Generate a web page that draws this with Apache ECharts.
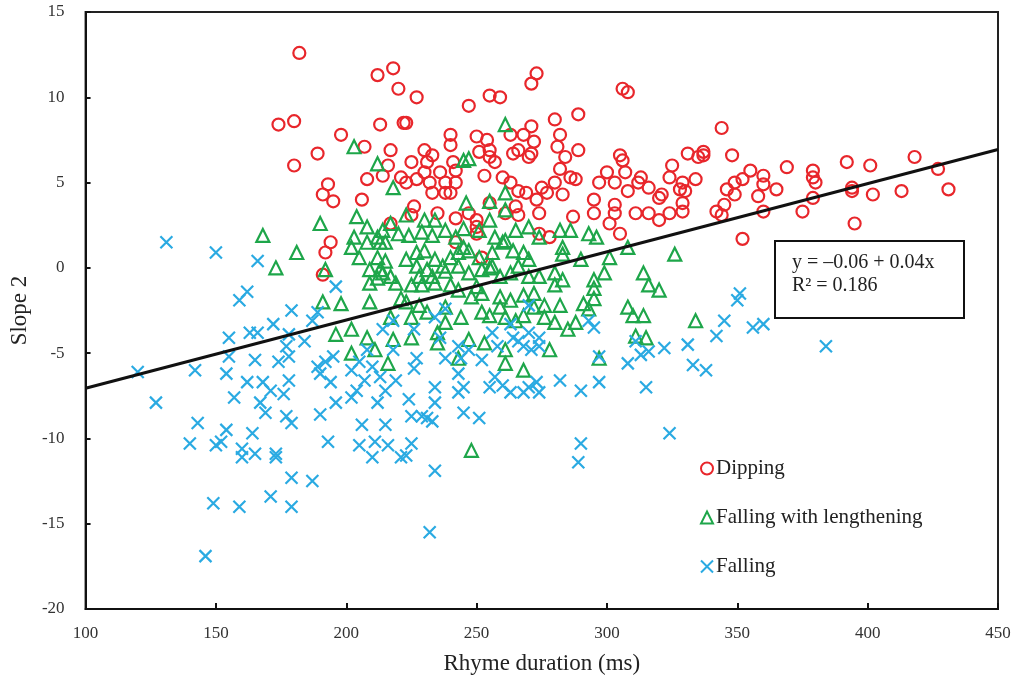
<!DOCTYPE html>
<html>
<head>
<meta charset="utf-8">
<script src="https://cdn.jsdelivr.net/npm/echarts@6/dist/echarts.min.js"></script>
<style>
  html, body { margin: 0; padding: 0; background: #fff; }
  #chart { width: 1019px; height: 681px; }
</style>
</head>
<body>
<div id="chart"></div>
<script>
// series names (legend order)
var seriesNames = ["Dipping", "Falling with lengthening", "Falling"];

// Dipping: [rhyme duration (ms), slope 2]
var dipping = [
  [182, 12.6], [212, 11.3], [218, 11.7], [220, 10.5], [174, 8.4], [180, 8.6], [198, 7.8], [213, 8.4],
  [222, 8.5], [207, 7.1], [189, 6.7], [217, 6.9], [180, 6.0], [216, 6.0], [214, 5.4], [208, 5.2],
  [221, 5.3], [193, 4.9], [191, 4.3], [195, 3.9], [206, 4.0],
  [273, 11.4], [271, 10.8], [306, 10.5], [308, 10.3], [227, 10.0], [255, 10.1], [259, 10.0], [247, 9.5],
  [223, 8.5], [280, 8.7], [289, 9.0], [271, 8.3], [240, 7.8], [250, 7.7], [254, 7.5], [263, 7.8],
  [268, 7.8], [272, 7.4], [282, 7.8], [240, 7.2], [281, 7.1], [289, 6.9], [230, 6.9], [233, 6.6],
  [251, 6.8], [255, 6.9], [264, 6.7], [266, 6.9], [271, 6.7], [270, 6.5], [284, 6.5], [305, 6.6],
  [306, 6.3], [331, 6.7], [335, 6.5], [225, 6.2], [231, 6.2], [241, 6.2], [255, 6.5], [257, 6.2],
  [282, 5.8], [325, 6.0], [324, 5.3], [230, 5.6], [236, 5.6], [242, 5.7], [300, 5.6], [307, 5.6],
  [313, 5.3], [253, 5.4], [260, 5.3], [286, 5.3], [288, 5.2], [223, 5.0], [227, 5.2], [232, 5.0],
  [238, 5.0], [242, 5.0], [263, 5.0], [280, 5.0], [297, 5.0], [303, 5.0], [312, 5.0], [316, 4.7],
  [329, 5.0], [334, 5.2], [233, 4.4], [238, 4.4], [240, 4.4], [266, 4.5], [269, 4.4], [275, 4.7],
  [277, 4.4], [283, 4.3], [308, 4.5], [320, 4.1], [321, 4.3], [328, 4.6], [330, 4.5], [273, 4.0],
  [295, 4.0], [303, 3.7], [329, 3.8], [255, 3.8], [265, 3.6], [226, 3.6],
  [344, 8.2], [337, 6.8], [337, 6.6], [348, 6.6], [355, 5.7], [360, 5.4], [369, 5.9], [392, 6.2],
  [401, 6.0], [418, 6.5], [427, 5.8], [352, 5.2], [349, 5.0], [360, 4.9], [365, 4.6], [379, 5.7],
  [379, 5.3], [380, 5.0], [346, 4.6], [349, 4.3], [358, 4.2], [379, 4.1], [394, 4.7], [394, 4.5],
  [402, 4.3], [413, 4.5], [431, 4.6], [345, 3.7], [342, 3.3], [360, 3.3], [375, 3.3], [344, 3.1],
  [395, 2.6], [352, 1.7],
  [194, 1.5], [192, 0.9], [191, -0.4], [217, 2.6],
  [225, 3.1], [235, 3.2], [242, 2.9], [247, 3.2], [250, 2.8], [250, 2.4], [250, 2.0], [252, 0.6],
  [242, 1.5], [261, 3.2], [266, 3.1], [274, 3.2], [278, 1.8], [274, 2.0], [287, 3.0], [295, 3.2],
  [301, 2.6], [305, 2.0], [303, 3.2], [311, 3.2], [316, 3.2], [320, 2.8], [324, 3.2], [329, 3.3]
];

// Falling with lengthening
var fallingLengthening = [
  [203, 7.1], [212, 6.1], [261, 8.4], [245, 6.3], [247, 6.4],
  [168, 1.9], [181, 0.9], [173, 0.0], [190, 2.6], [192, -0.1], [191, -2.0], [198, -2.1], [209, -2.0],
  [204, 3.0], [208, 2.4], [203, 1.8], [212, 1.8], [202, 1.2], [208, 1.5], [213, 1.5], [205, 0.6],
  [212, 0.6], [209, -0.1], [213, -0.1], [209, -0.9], [212, -0.6], [196, -3.9], [202, -3.6], [208, -4.1],
  [202, -5.0], [211, -4.8], [248, -10.7],
  [218, 4.7], [261, 4.4], [246, 3.8], [255, 3.9], [261, 3.4], [223, 3.1], [230, 2.8], [234, 2.8],
  [217, 2.6], [214, 2.2], [220, 2.0], [224, 1.9], [229, 2.1], [233, 1.9], [238, 2.2], [242, 1.8],
  [245, 2.3], [251, 2.2], [255, 2.8], [257, 1.8], [261, 1.6], [265, 2.2], [270, 2.4], [274, 1.8],
  [282, 2.2], [286, 2.2], [293, 2.0], [296, 1.8], [308, 1.2], [326, 0.8], [283, 1.2], [283, 0.8],
  [290, 0.5], [301, 0.6], [215, 1.5], [215, 0.4], [214, -0.3], [217, -0.5], [219, -0.9], [223, 0.5],
  [227, 0.9], [230, 1.0], [227, 0.1], [231, -0.1], [234, 0.5], [237, 0.1], [240, 0.6], [243, 0.9],
  [247, 1.0], [251, 0.6], [256, 0.9], [260, 1.5], [264, 1.0], [268, 0.9], [270, 0.5], [266, 0.1],
  [228, -0.5], [233, -0.5], [238, -0.2], [243, 0.1], [247, -0.3], [252, -0.1], [256, 0.1], [259, -0.5],
  [263, -0.3], [270, -0.5], [274, -0.5], [280, -0.3], [283, -0.7], [280, -1.0], [295, -0.7], [299, -0.3],
  [314, -0.3], [316, -1.0], [320, -1.3], [295, -1.2], [295, -1.8], [291, -2.1], [293, -2.4], [282, -2.2],
  [276, -2.2], [272, -1.5], [268, -1.6], [263, -1.9], [259, -1.7], [252, -1.5], [248, -1.7], [243, -1.3],
  [240, -1.0], [234, -0.9], [229, -1.0], [225, -1.0], [221, -1.8], [223, -2.0], [238, -2.3], [244, -2.9],
  [252, -2.6], [255, -2.8], [259, -2.3], [261, -2.9], [265, -3.1], [268, -2.8], [272, -2.3], [276, -2.9],
  [280, -3.2], [288, -3.2], [308, -2.3], [310, -2.8], [314, -2.8], [334, -3.1], [311, -4.0], [315, -4.1],
  [297, -5.3], [218, -4.2], [225, -4.1], [235, -3.8], [235, -4.4], [243, -5.3], [247, -4.2], [253, -4.4],
  [261, -4.8], [261, -5.6], [268, -6.0], [278, -4.8], [217, -2.9], [216, -5.6], [225, -2.9], [228, -2.2],
  [231, -2.6], [238, -3.2], [250, -1.1], [255, 0.0], [245, 1.2], [285, -3.6]
];

// Falling
var falling = [
  [131, 1.5], [150, 0.9], [166, 0.4], [162, -1.4], [159, -1.9], [196, -1.1], [179, -2.5], [187, -3.1],
  [189, -2.6], [172, -3.3], [163, -3.8], [166, -3.8], [155, -4.1], [178, -3.9], [184, -4.3], [155, -5.2],
  [177, -4.6], [120, -6.1], [142, -6.0], [154, -6.2], [127, -7.9], [165, -5.4], [174, -5.5], [178, -5.2],
  [189, -5.8], [192, -5.5], [195, -5.2], [202, -6.0], [162, -6.7], [168, -6.7], [171, -7.2], [178, -6.6],
  [176, -7.4], [190, -6.2], [194, -6.7], [205, -5.5], [210, -5.8], [207, -6.6], [213, -6.4], [204, -7.2],
  [215, -7.2], [219, -6.6], [208, -4.8], [218, -4.8], [214, -3.6], [218, -3.1], [157, -7.6], [167, -7.9],
  [196, -7.9], [202, -7.6], [212, -7.9],
  [143, -9.1], [154, -9.5], [140, -10.3], [150, -10.4], [152, -10.2], [164, -9.7], [160, -10.6], [160, -11.1],
  [165, -10.9], [173, -10.9], [173, -11.1], [169, -8.5], [177, -8.7], [179, -9.1], [190, -8.6], [193, -10.2],
  [206, -9.2], [215, -9.2], [205, -10.4], [211, -10.2], [216, -10.4], [210, -11.1], [221, -11.1], [179, -12.3],
  [187, -12.5], [149, -13.8], [159, -14.0], [171, -13.4], [179, -14.0], [146, -16.9],
  [225, -8.7], [229, -8.7], [231, -8.8], [233, -9.0], [245, -8.5], [251, -8.8], [225, -10.3], [223, -11.0],
  [234, -11.9], [232, -15.5], [290, -10.3], [289, -11.4], [324, -9.7],
  [234, -2.9], [238, -2.4], [270, -2.2], [293, -3.1], [295, -3.5], [263, -3.3], [264, -4.1], [236, -4.1],
  [226, -3.6], [256, -3.8], [270, -3.8], [274, -4.1], [266, -4.3], [268, -4.6], [271, -4.8], [274, -4.6],
  [243, -4.6], [247, -4.8], [258, -4.6], [252, -5.4], [244, -5.3], [238, -5.3], [227, -5.3], [226, -5.9],
  [243, -6.2], [257, -6.4], [234, -7.0], [243, -7.3], [245, -7.0], [255, -7.0], [260, -6.9], [263, -7.3],
  [268, -7.3], [270, -7.0], [273, -6.7], [274, -7.3], [282, -6.6], [290, -7.2], [297, -6.7], [297, -5.2],
  [308, -5.6], [315, -7.0], [311, -4.3], [313, -5.1], [316, -4.9], [322, -4.7], [331, -4.5], [333, -5.7],
  [224, -7.7], [234, -7.9],
  [351, -1.5], [350, -1.9], [345, -3.1], [356, -3.5], [360, -3.3], [342, -4.0], [384, -4.6], [338, -6.0]
];

// regression line end points
var trendX = [100, 450];
var trendY = [-7.06, 6.94];

var serif = "'Liberation Serif', 'Times New Roman', serif";

var chart = echarts.init(document.getElementById("chart"));
var option = {
  backgroundColor: "#fff",
  animation: false,
  grid: {
    left: 81,
    right: 21,
    top: 12,
    bottom: 72,
    show: true,
    borderColor: "#222",
    borderWidth: 2
  },
  xAxis: {
    type: "value",
    min: 100,
    max: 450,
    interval: 50,
    name: "Rhyme duration (ms)",
    nameLocation: "middle",
    nameGap: 43,
    nameTextStyle: { fontFamily: serif, fontSize: 23, color: "#222" },
    axisLine: { onZero: false, lineStyle: { color: "#111", width: 2 } },
    axisTick: { inside: true, length: 6, lineStyle: { color: "#111", width: 2 } },
    axisLabel: { fontFamily: serif, fontSize: 17, color: "#333", margin: 16 },
    splitLine: { show: false }
  },
  yAxis: {
    type: "value",
    min: -20,
    max: 15,
    interval: 5,
    name: "Slope 2",
    nameLocation: "middle",
    nameGap: 53,
    nameTextStyle: { fontFamily: serif, fontSize: 23, color: "#222" },
    axisLine: { show: true, onZero: false, lineStyle: { color: "#111", width: 2 } },
    axisTick: { show: true, inside: true, length: 5, lineStyle: { color: "#111", width: 2 } },
    axisLabel: { fontFamily: serif, fontSize: 17, color: "#333", margin: 21 },
    splitLine: { show: false }
  },
  legend: {
    data: seriesNames,
    orient: "vertical",
    left: 695,
    top: 453,
    itemGap: 28,
    itemWidth: 12,
    itemHeight: 12,
    textStyle: { fontFamily: serif, fontSize: 21, color: "#222", padding: [0, 0, 0, -2] }
  },
  series: [
    {
      name: seriesNames[0],
      type: "scatter",
      data: dipping,
      symbol: "circle",
      symbolSize: 12,
      itemStyle: { color: "rgba(0,0,0,0)", borderColor: "#e8262b", borderWidth: 2.2, opacity: 1 }
    },
    {
      name: seriesNames[1],
      type: "scatter",
      data: fallingLengthening,
      symbol: "triangle",
      symbolSize: 13,
      itemStyle: { color: "rgba(0,0,0,0)", borderColor: "#1ea64a", borderWidth: 2.2, opacity: 1 }
    },
    {
      name: seriesNames[2],
      type: "scatter",
      data: falling,
      symbol: "path://M0,0L10,10M10,0L0,10",
      symbolSize: 12,
      itemStyle: { color: "rgba(0,0,0,0)", borderColor: "#2aaae2", borderWidth: 2.2, opacity: 1 }
    },
    {
      name: "trend",
      type: "line",
      data: [[trendX[0], trendY[0]], [trendX[1], trendY[1]]],
      showSymbol: false,
      symbol: "none",
      lineStyle: { color: "#111", width: 3 },
      silent: true,
      z: 5
    }
  ],
  graphic: [
    {
      type: "rect",
      left: 774,
      top: 240,
      shape: { width: 189, height: 77 },
      style: { fill: "#fff", stroke: "#111", lineWidth: 2 },
      z: 100
    },
    {
      type: "text",
      left: 792,
      top: 253,
      style: { text: "y = \u20130.06 + 0.04x", font: "20px " + serif, fill: "#222" },
      z: 101
    },
    {
      type: "text",
      left: 792,
      top: 276,
      style: { text: "R\u00b2 = 0.186", font: "20px " + serif, fill: "#222" },
      z: 101
    }
  ]
};
chart.setOption(option);
</script>
</body>
</html>
